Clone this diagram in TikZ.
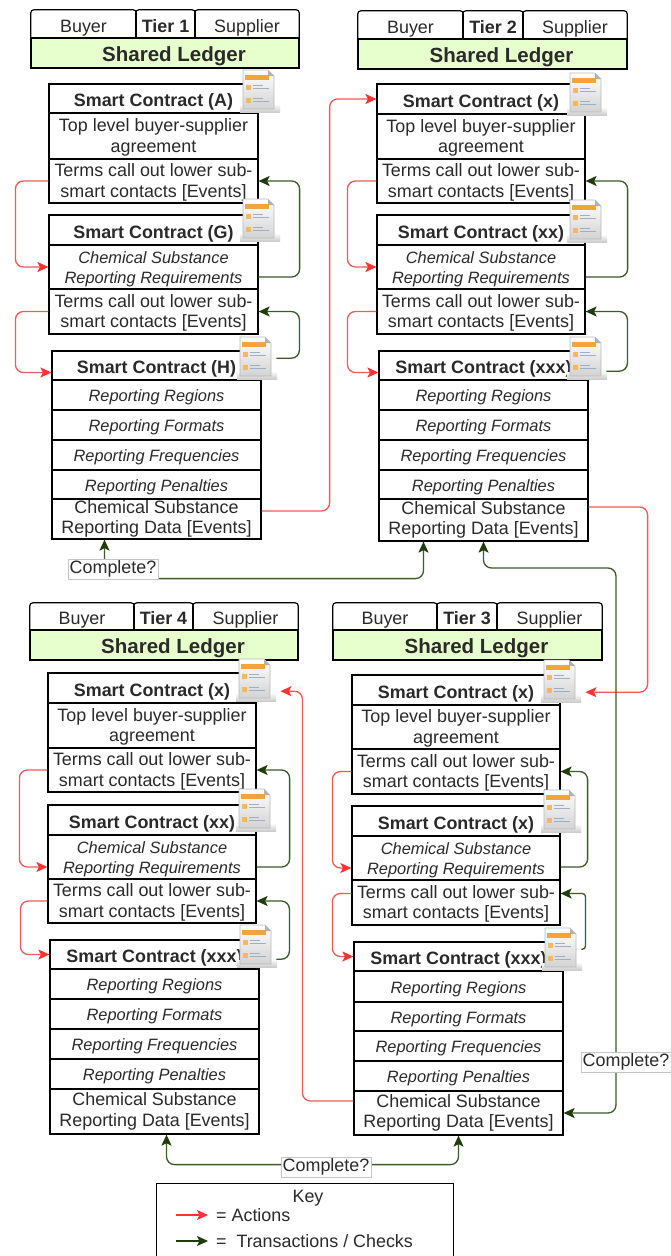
\documentclass[tikz,border=0pt]{standalone}
\usepackage{fontspec}
\setmainfont{Liberation Sans}
\usetikzlibrary{arrows.meta}
\definecolor{actline}{HTML}{F05A5A}
\definecolor{actred}{HTML}{FF3333}
\definecolor{chkline}{HTML}{3A5A28}
\definecolor{chkdark}{HTML}{1F3D0C}
\definecolor{ledger}{HTML}{E6FFCC}
\definecolor{txt}{HTML}{2A2A2A}
\definecolor{iconorange}{HTML}{F3A53B}
\definecolor{iconblue}{HTML}{9BB0C8}
\newcommand\fsN{\fontsize{17.9}{20.5}\selectfont}
\newcommand\fsI{\fontsize{16.4}{20}\selectfont\itshape}
\newcommand\fsB{\fontsize{17.9}{20.5}\selectfont\bfseries}
\newcommand\fsL{\fontsize{20.5}{24}\selectfont\bfseries}
\newcommand\tlA{\rule{0pt}{15.4pt}}
\newcommand\tlB{\rule{0pt}{16pt}}
\newcommand\mkcell[7]{\node[#6, minimum width={(#4-#2)*1pt}, minimum height={(#5-#3)*1pt}] (#1) at ({(#2+#4)/2},{(#3+#5)/2}) {#7};}
\newcommand\mktab[6]{\mkcell{#1}{#2}{#3}{#4}{#5}{tabcell}{#6}\draw[tabline] (#1.south west) -- (#1.north west) -- (#1.north east) -- (#1.south east);}
\newcommand\mkicon[3]{\pic at (#2,#3) {docicon}; \node[inner sep=0pt, minimum width=38pt, minimum height=42pt, anchor=north west] (#1) at (#2,#3) {};}
\tikzset{
  atip/.tip={Stealth[length=11pt,width=10pt,inset=2.5pt,color=actred]},
  ctip/.tip={Stealth[length=11pt,width=10pt,inset=2.5pt,color=chkdark]},
  cell/.style={draw=black, line width=1.2pt, fill=white, inner sep=0pt, align=center, text=txt, font=\fsN},
  headcell/.style={cell, font=\fsB, text height=16.4pt, text depth=0pt},
  icell/.style={cell, font=\fsI, text height=13.4pt, text depth=0pt},
  icellm/.style={cell, font=\fsI},
  tabcell/.style={inner sep=0pt, align=center, text=txt, font=\fsN, text height=16.6pt, text depth=0pt},
  tabline/.style={line width=1.2pt, rounded corners=3pt},
  ledgercell/.style={cell, fill=ledger, font=\fsL, text height=17.4pt, text depth=0pt},
  act/.style={draw=actline, line width=1.3pt, rounded corners=8pt, -atip},
  chk/.style={draw=chkline, line width=1.3pt, rounded corners=8pt, -ctip},
  chktwo/.style={draw=chkline, line width=1.3pt, rounded corners=8pt, ctip-ctip},
  cmpl/.style={fill=white, draw=gray!45, line width=0.5pt, inner sep=1.5pt, text=txt, font=\fsN},
  docicon/.pic={
    \shade[top color=gray!5, bottom color=gray!40] (-1,35) rectangle (39,42);
    \shadedraw[top color=white, bottom color=gray!35, draw=gray!55, line width=0.6pt] (2,0) -- (27,0) -- (33,6) -- (33,39) -- (2,39) -- cycle;
    \fill[gray!60] (27,0) -- (27,6) -- (33,6) -- cycle;
    \fill[iconorange] (4,5) rectangle (28,10);
    \fill[iconorange!80] (5,15) rectangle (10,20);
    \fill[iconorange!80] (5,28) rectangle (10,33);
    \draw[iconblue, line width=0.8pt] (12,15.5) -- (22,15.5) (12,18.5) -- (28,18.5) (12,28.5) -- (22,28.5) (12,31.5) -- (28,31.5);
  }
}
\begin{document}
\begin{tikzpicture}[x=1pt,y=-1pt]
\fill[white] (0,0) rectangle (670,1256);
\useasboundingbox (0,0) rectangle (670,1256);
% ---------------- Tier 1
\mktab{b1}{31}{10}{136}{38}{Buyer}
\mktab{t1}{136}{10}{195}{38}{\bfseries Tier 1}
\mktab{s1}{195}{10}{299}{38}{Supplier}
\mkcell{l1}{31}{38}{299}{68}{ledgercell}{\hspace*{18pt}Shared Ledger}
\mkcell{A1}{49}{84}{258}{113}{headcell}{Smart Contract (A)}
\mkcell{A2}{49}{113}{258}{159}{cell}{\tlA Top level buyer-supplier\\agreement}
\mkcell{A3}{49}{159}{258}{203}{cell}{\tlA Terms call out lower sub-\\smart contacts [Events]}
\mkcell{G1}{49}{215}{258}{245}{headcell}{Smart Contract (G)}
\mkcell{G2}{49}{245}{258}{289}{icellm}{\tlB Chemical Substance\\Reporting Requirements}
\mkcell{G3}{49}{289}{258}{334}{cell}{\tlA Terms call out lower sub-\\smart contacts [Events]}
\mkcell{H1}{52}{351}{261}{380}{headcell}{Smart Contract (H)}
\mkcell{H2}{52}{380}{261}{410}{icell}{Reporting Regions}
\mkcell{H3}{52}{410}{261}{440}{icell}{Reporting Formats}
\mkcell{H4}{52}{440}{261}{470}{icell}{Reporting Frequencies}
\mkcell{H5}{52}{470}{261}{499}{icell}{Reporting Penalties}
\mkcell{H6}{52}{499}{261}{539}{cell}{Chemical Substance\\Reporting Data [Events]}
% ---------------- Tier 2
\mktab{b2}{358}{11}{463}{39}{Buyer}
\mktab{t2}{463}{11}{523}{39}{\bfseries Tier 2}
\mktab{s2}{523}{11}{627}{39}{Supplier}
\mkcell{l2}{358}{39}{627}{69}{ledgercell}{\hspace*{18pt}Shared Ledger}
\mkcell{P1}{377}{84}{585}{114}{headcell}{Smart Contract (x)}
\mkcell{P2}{377}{114}{585}{159}{cell}{\tlA Top level buyer-supplier\\agreement}
\mkcell{P3}{377}{159}{585}{203}{cell}{\tlA Terms call out lower sub-\\smart contacts [Events]}
\mkcell{Q1}{377}{215}{585}{245}{headcell}{Smart Contract (xx)}
\mkcell{Q2}{377}{245}{585}{289}{icellm}{\tlB Chemical Substance\\Reporting Requirements}
\mkcell{Q3}{377}{289}{585}{334}{cell}{\tlA Terms call out lower sub-\\smart contacts [Events]}
\mkcell{R1}{379}{351}{588}{380}{headcell}{Smart Contract (xxx)}
\mkcell{R2}{379}{380}{588}{410}{icell}{Reporting Regions}
\mkcell{R3}{379}{410}{588}{440}{icell}{Reporting Formats}
\mkcell{R4}{379}{440}{588}{470}{icell}{Reporting Frequencies}
\mkcell{R5}{379}{470}{588}{499}{icell}{Reporting Penalties}
\mkcell{R6}{379}{499}{588}{541}{cell}{Chemical Substance\\Reporting Data [Events]}
% ---------------- Tier 3
\mktab{b3}{333}{603}{437}{630}{Buyer}
\mktab{t3}{437}{603}{497}{630}{\bfseries Tier 3}
\mktab{s3}{497}{603}{602}{630}{Supplier}
\mkcell{l3}{333}{630}{602}{660}{ledgercell}{\hspace*{18pt}Shared Ledger}
\mkcell{Y1}{352}{675}{560}{705}{headcell}{Smart Contract (x)}
\mkcell{Y2}{352}{705}{560}{749}{cell}{\tlA Top level buyer-supplier\\agreement}
\mkcell{Y3}{352}{749}{560}{794}{cell}{\tlA Terms call out lower sub-\\smart contacts [Events]}
\mkcell{Z1}{352}{806}{560}{836}{headcell}{Smart Contract (x)}
\mkcell{Z2}{352}{836}{560}{880}{icellm}{\tlB Chemical Substance\\Reporting Requirements}
\mkcell{Z3}{352}{880}{560}{925}{cell}{\tlA Terms call out lower sub-\\smart contacts [Events]}
\mkcell{V1}{354}{942}{563}{971}{headcell}{Smart Contract (xxx)}
\mkcell{V2}{354}{971}{563}{1002}{icell}{Reporting Regions}
\mkcell{V3}{354}{1002}{563}{1031}{icell}{Reporting Formats}
\mkcell{V4}{354}{1031}{563}{1061}{icell}{Reporting Frequencies}
\mkcell{V5}{354}{1061}{563}{1091}{icell}{Reporting Penalties}
\mkcell{V6}{354}{1091}{563}{1135}{cell}{Chemical Substance\\Reporting Data [Events]}
% ---------------- Tier 4
\mktab{b4}{30}{603}{134}{630}{Buyer}
\mktab{t4}{134}{603}{193}{630}{\bfseries Tier 4}
\mktab{s4}{193}{603}{298}{630}{Supplier}
\mkcell{l4}{30}{630}{298}{660}{ledgercell}{\hspace*{18pt}Shared Ledger}
\mkcell{W1}{48}{673}{256}{703}{headcell}{Smart Contract (x)}
\mkcell{W2}{48}{703}{256}{748}{cell}{\tlA Top level buyer-supplier\\agreement}
\mkcell{W3}{48}{748}{256}{792}{cell}{\tlA Terms call out lower sub-\\smart contacts [Events]}
\mkcell{U1}{48}{805}{256}{835}{headcell}{Smart Contract (xx)}
\mkcell{U2}{48}{835}{256}{879}{icellm}{\tlB Chemical Substance\\Reporting Requirements}
\mkcell{U3}{48}{879}{256}{923}{cell}{\tlA Terms call out lower sub-\\smart contacts [Events]}
\mkcell{S1}{50}{940}{259}{969}{headcell}{Smart Contract (xxx)}
\mkcell{S2}{50}{969}{259}{999}{icell}{Reporting Regions}
\mkcell{S3}{50}{999}{259}{1029}{icell}{Reporting Formats}
\mkcell{S4}{50}{1029}{259}{1059}{icell}{Reporting Frequencies}
\mkcell{S5}{50}{1059}{259}{1089}{icell}{Reporting Penalties}
\mkcell{S6}{50}{1089}{259}{1134}{cell}{Chemical Substance\\Reporting Data [Events]}
% ---------------- icon anchors
\mkicon{iA}{241}{70}
\mkicon{iG}{241}{199}
\mkicon{iH}{238}{337}
\mkicon{iP}{568}{73}
\mkicon{iQ}{568}{200}
\mkicon{iR}{568}{337}
\mkicon{iY}{542}{660}
\mkicon{iZ}{542}{790}
\mkicon{iV}{543}{928}
\mkicon{iW}{237}{659}
\mkicon{iU}{237}{789}
\mkicon{iS}{238}{925}
% ---------------- connectors tier 1
\draw[act] (A3.west) -- ++(-33,0) |- (G2.west);
\draw[chk] ([yshift=-10pt]G2.east) -- ++(41,0) |- (A3.east);
\draw[act] (G3.west) -- ++(-33,0) |- ([yshift=-7pt]H1.west);
\draw[chk] (iH.east) -- ++(23,0) |- (G3.east);
\draw[act] ([yshift=8pt]H6.east) -- ++(68,0) |- (P1.west);
\draw[chktwo] ([xshift=-52pt]H6.south) -- ++(0,39) -| ([xshift=-60pt]R6.south);
% ---------------- connectors tier 2
\draw[act] (P3.west) -- ++(-29,0) |- (Q2.west);
\draw[chk] ([yshift=-10pt]Q2.east) -- ++(42,0) |- (P3.east);
\draw[act] (Q3.west) -- ++(-29,0) |- ([yshift=-7pt]R1.west);
\draw[chk] ([yshift=-13pt]iR.east) -- ++(21,0) |- (Q3.east);
\draw[act] ([yshift=13pt]R6.east) -- ++(59,0) |- ([xshift=5pt,yshift=-11pt]iY.east);
\coordinate (j23) at (616,568);
\draw[chktwo] (R6.south) |- (j23) |- (V6.east);
% ---------------- connectors tier 3
\draw[act] (Y3.west) -- ++(-19,0) |- ([yshift=-10pt]Z2.west);
\draw[chk] ([yshift=-9pt]Z2.east) -- ++(27,0) |- (Y3.east);
\draw[act] ([yshift=9pt]Z3.west) -- ++(-19,0) |- (V1.west);
\draw[chk, rounded corners=3pt] (iV.east) -- ++(4,0) |- ([yshift=9pt]Z3.east);
\draw[act] ([yshift=12pt]V6.west) -- ++(-51,0) |- ([xshift=5pt,yshift=-11pt]iW.east);
\draw[chktwo] ([xshift=12pt]S6.south) -- ++(0,30) -| (V6.south);
% ---------------- connectors tier 4
\draw[act] (W3.west) -- ++(-28,0) |- ([yshift=-10pt]U2.west);
\draw[chk] ([yshift=-10pt]U2.east) -- ++(33,0) |- (W3.east);
\draw[act] (U3.west) -- ++(-27,0) |- (S1.west);
\draw[chk] ([yshift=-13pt]iS.east) -- ++(13,0) |- (U3.east);
% ---------------- labels
\node[cmpl] (c1) at (113,569) {Complete?};
\node[cmpl] (c2) at (626,1062) {Complete?};
\node[cmpl] (c3) at (326,1167) {Complete?};
% ---------------- key
\node[draw=black, line width=1.2pt, fill=white, minimum width=297pt, minimum height=80pt, anchor=north west, inner sep=0pt] (key) at (156,1183) {};
\node[text=txt, font=\fsN, inner sep=0pt] (keyt) at (308,1198) {Key};
\coordinate (ka1) at (176,1215);
\coordinate (ka2) at (208,1215);
\coordinate (kc1) at (176,1241);
\coordinate (kc2) at (208,1241);
\draw[draw=actred, line width=1.3pt, -atip] (ka1) -- (ka2);
\draw[draw=chkdark, line width=1.3pt, -ctip] (kc1) -- (kc2);
\node[text=txt, font=\fsN, inner sep=0pt, anchor=west] (kat) at (216,1215) {= Actions};
\node[text=txt, font=\fsN, inner sep=0pt, anchor=west] (kct) at (216,1241) {=\hspace{0.55em}Transactions / Checks};
\end{tikzpicture}
\end{document}
